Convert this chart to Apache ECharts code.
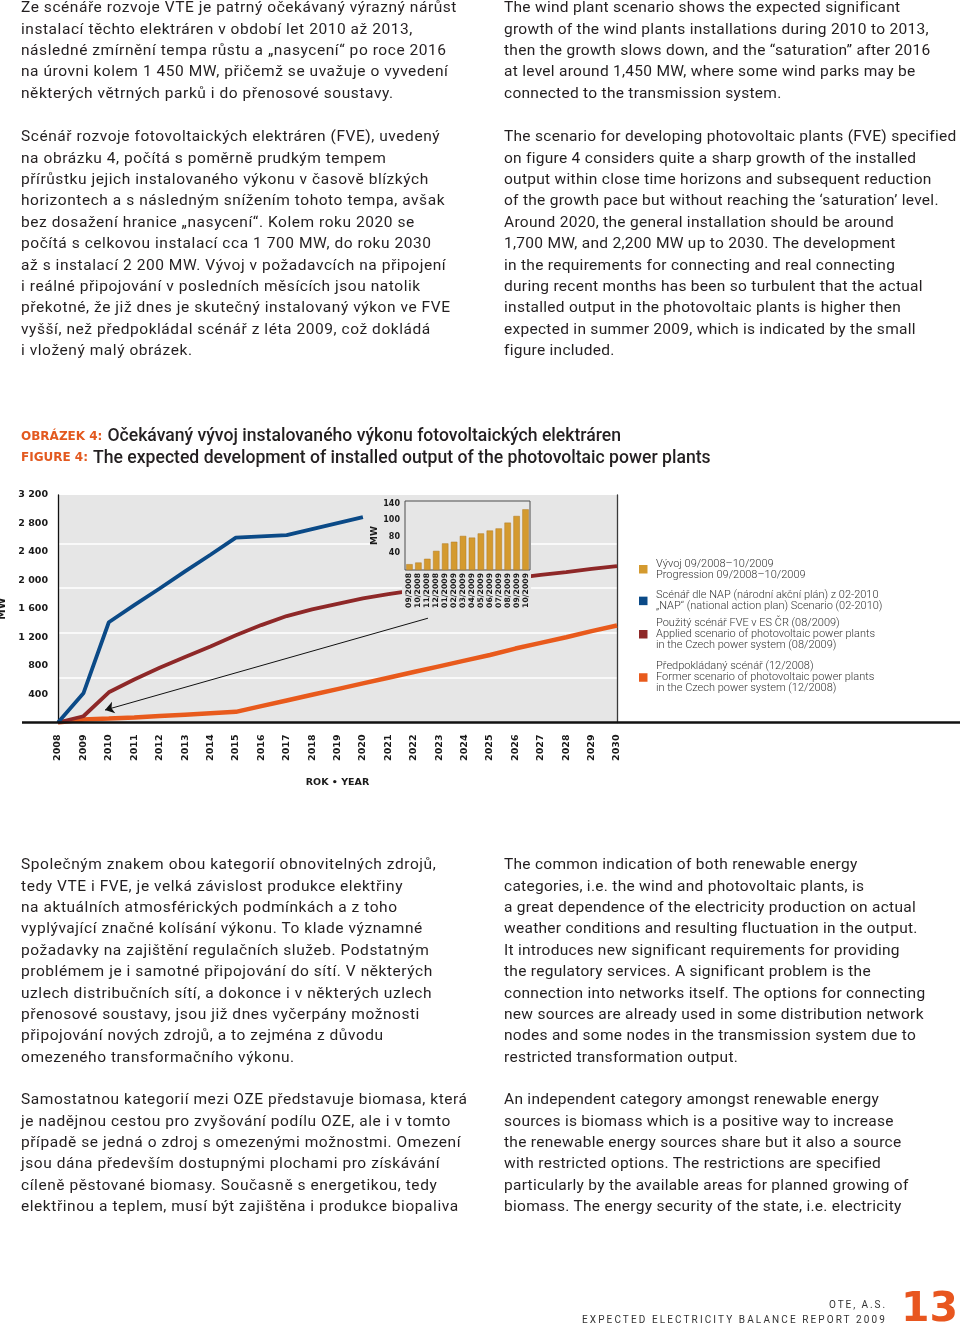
<!DOCTYPE html>
<html><head><meta charset="utf-8">
<script src="https://cdn.jsdelivr.net/npm/echarts@6/dist/echarts.min.js"></script>
<style>
html,body{margin:0;padding:0;background:#fff;}
body{width:960px;height:1327px;overflow:hidden;position:relative;}
#chart{position:absolute;left:0;top:0;width:960px;height:1327px;}
.col{position:absolute;font-family:Roboto,'DejaVu Sans',sans-serif;font-size:15.5px;line-height:21.4px;color:#231f20;z-index:2;}
.col div{height:21.4px;white-space:pre;}
.foot{position:absolute;font-family:Roboto,sans-serif;font-size:10px;line-height:12px;color:#333;white-space:pre;z-index:2;}
.foot span{display:inline-block;white-space:pre;}
#pg{position:absolute;left:901px;top:1287px;font-family:'DejaVu Sans',sans-serif;font-weight:bold;font-size:41px;line-height:40px;color:#e8561f;z-index:2;}
</style></head><body>
<div id="chart"></div>
<div id="texts"></div>
<div class="foot" id="ote"><span>OTE, A.S.</span></div>
<div class="foot" id="rep"><span>EXPECTED ELECTRICITY BALANCE REPORT 2009</span></div>
<div id="pg">13</div>
<script>
// ---------- DATA ----------
const years = [2008,2009,2010,2011,2012,2013,2014,2015,2016,2017,2018,2019,2020,2021,2022,2023,2024,2025,2026,2027,2028,2029,2030];
const napValues = [0,410,1410,1650,1885,2125,2360,2600,2618,2635,2720,2805,2890];
const appliedValues = [0,88,425,605,770,920,1070,1226,1370,1497,1590,1670,1745,1805,1860,1905,1950,1990,2030,2075,2115,2160,2200];
const formerValues = [0,42,55,70,90,110,130,150,230,310,390,470,550,630,710,790,870,950,1040,1120,1200,1285,1365];
const insetMonths = ['09/2008','10/2008','11/2008','12/2008','01/2009','02/2009','03/2009','04/2009','05/2009','06/2009','07/2009','08/2009','09/2009','10/2009'];
const insetValues = [14,18,27,46,64,68,82,78,88,95,100,114,130,146];
const insetTickValues = [40,80,120,160];
const insetTickLabels = ['40','80','100','140'];
const arrowFrom = [2022.56,1467];
const arrowTo = [2009.85,175];
const legendDev = ['Vývoj 09/2008–10/2009','Progression 09/2008–10/2009'];
const legendNap = ['Scénář dle NAP (národní akční plán) z 02-2010','„NAP“ (national action plan) Scenario (02-2010)'];
const legendApplied = ['Použitý scénář FVE v ES ČR (08/2009)','Applied scenario of photovoltaic power plants','in the Czech power system (08/2009)'];
const legendFormer = ['Předpokládaný scénář (12/2008)','Former scenario of photovoltaic power plants','in the Czech power system (12/2008)'];

// ---------- TEXT ----------
const leftP1 = ['Ze scénáře rozvoje VTE je patrný očekávaný výrazný nárůst','instalací těchto elektráren v období let 2010 až 2013,','následné zmírnění tempa růstu a „nasycení“ po roce 2016','na úrovni kolem 1 450 MW, přičemž se uvažuje o vyvedení','některých větrných parků i do přenosové soustavy.'];
const leftP2 = ['Scénář rozvoje fotovoltaických elektráren (FVE), uvedený','na obrázku 4, počítá s poměrně prudkým tempem','přírůstku jejich instalovaného výkonu v časově blízkých','horizontech a s následným snížením tohoto tempa, avšak','bez dosažení hranice „nasycení“. Kolem roku 2020 se','počítá s celkovou instalací cca 1 700 MW, do roku 2030','až s instalací 2 200 MW. Vývoj v požadavcích na připojení','i reálné připojování v posledních měsících jsou natolik','překotné, že již dnes je skutečný instalovaný výkon ve FVE','vyšší, než předpokládal scénář z léta 2009, což dokládá','i vložený malý obrázek.'];
const rightP1 = ['The wind plant scenario shows the expected significant','growth of the wind plants installations during 2010 to 2013,','then the growth slows down, and the “saturation” after 2016','at level around 1,450 MW, where some wind parks may be','connected to the transmission system.'];
const rightP2 = ['The scenario for developing photovoltaic plants (FVE) specified','on figure 4 considers quite a sharp growth of the installed','output within close time horizons and subsequent reduction','of the growth pace but without reaching the ‘saturation’ level.','Around 2020, the general installation should be around','1,700 MW, and 2,200 MW up to 2030. The development','in the requirements for connecting and real connecting','during recent months has been so turbulent that the actual','installed output in the photovoltaic plants is higher then','expected in summer 2009, which is indicated by the small','figure included.'];
const leftP3 = ['Společným znakem obou kategorií obnovitelných zdrojů,','tedy VTE i FVE, je velká závislost produkce elektřiny','na aktuálních atmosférických podmínkách a z toho','vyplývající značné kolísání výkonu. To klade významné','požadavky na zajištění regulačních služeb. Podstatným','problémem je i samotné připojování do sítí. V některých','uzlech distribučních sítí, a dokonce i v některých uzlech','přenosové soustavy, jsou již dnes vyčerpány možnosti','připojování nových zdrojů, a to zejména z důvodu','omezeného transformačního výkonu.'];
const rightP3 = ['The common indication of both renewable energy','categories, i.e. the wind and photovoltaic plants, is','a great dependence of the electricity production on actual','weather conditions and resulting fluctuation in the output.','It introduces new significant requirements for providing','the regulatory services. A significant problem is the','connection into networks itself. The options for connecting','new sources are already used in some distribution network','nodes and some nodes in the transmission system due to','restricted transformation output.'];
const leftP4 = ['Samostatnou kategorií mezi OZE představuje biomasa, která','je nadějnou cestou pro zvyšování podílu OZE, ale i v tomto','případě se jedná o zdroj s omezenými možnostmi. Omezení','jsou dána především dostupnými plochami pro získávání','cíleně pěstované biomasy. Současně s energetikou, tedy','elektřinou a teplem, musí být zajištěna i produkce biopaliva'];
const rightP4 = ['An independent category amongst renewable energy','sources is biomass which is a positive way to increase','the renewable energy sources share but it also a source','with restricted options. The restrictions are specified','particularly by the available areas for planned growing of','biomass. The energy security of the state, i.e. electricity'];

// ---------- LAYOUT OF TEXT ----------
const blocks = [
  {lines:leftP1, x:21, y:-2.7, side:'L'},
  {lines:leftP2, x:21, y:126.3, side:'L'},
  {lines:rightP1, x:504, y:-2.7, side:'R'},
  {lines:rightP2, x:504, y:126.3, side:'R'},
  {lines:leftP3, x:21, y:854.3, side:'L'},
  {lines:rightP3, x:504, y:854.3, side:'R'},
  {lines:leftP4, x:21, y:1089.3, side:'L'},
  {lines:rightP4, x:504, y:1089.3, side:'R'}
];
const host = document.getElementById('texts');
const cv = document.createElement('canvas').getContext('2d');
cv.font = '400 15.5px Roboto';
const lsL = (436 - cv.measureText(leftP1[0]).width) / leftP1[0].length;
const lsR = (452 - cv.measureText(rightP2[0]).width) / rightP2[0].length;
blocks.forEach(b => {
  const d = document.createElement('div');
  d.className = 'col';
  d.style.left = b.x + 'px';
  d.style.top = b.y + 'px';
  d.style.letterSpacing = (b.side === 'L' ? lsL : lsR).toFixed(3) + 'px';
  b.lines.forEach(t => { const l = document.createElement('div'); l.textContent = t; d.appendChild(l); });
  host.appendChild(d);
});
function fitFoot(id, right, top, width) {
  const el = document.getElementById(id);
  el.style.top = top + 'px';
  el.style.left = '0px';
  const sp = el.firstChild;
  const w = sp.getBoundingClientRect().width;
  const n = sp.textContent.length;
  el.style.letterSpacing = ((width - w) / n).toFixed(3) + 'px';
  const w2 = sp.getBoundingClientRect().width;
  el.style.left = (right - w2) + 'px';
}
fitFoot('ote', 887, 1299, 58);
fitFoot('rep', 887, 1314, 305);

// ---------- CHART ----------
const colors = {dev:'#d49a2f', nap:'#0b4a87', applied:'#8e2828', former:'#e85a1c'};
const pairs = (xs, vs) => vs.map((v, i) => [xs[i], v]);
const axisFont = {fontFamily:'DejaVu Sans', fontWeight:'bold', color:'#1a1a1a'};
const fmtThousands = v => v >= 1000 ? Math.floor(v/1000) + ' ' + String(v % 1000).padStart(3,'0') : String(v);
const legendMap = {};
[legendDev, legendNap, legendApplied, legendFormer].forEach(a => legendMap[a[0]] = a.join('\n'));
function makeLegend(lines, top) {
  const n = lines.length;
  return {
    show:true, orient:'vertical', left:639, top:top, padding:0,
    itemWidth:8.5, itemHeight:8.5, icon:'rect', selectedMode:false,
    itemStyle:{borderWidth:0},
    textStyle:{fontFamily:'Roboto', fontSize:11, lineHeight:11, color:'#333333', fontWeight:300},
    formatter: name => legendMap[name],
    data:[{name:lines[0], textStyle:{padding:[(n-1)*11,0,0,3.5]}}]
  };
}
const chart = echarts.init(document.getElementById('chart'), null, {renderer:'canvas'});
chart.setOption({
  animation:false,
  backgroundColor:'#ffffff',
  title:{
    left:21, top:426, padding:0,
    text:'{o|OBRÁZEK 4:} {t|Očekávaný vývoj instalovaného výkonu fotovoltaických elektráren}\n{o|FIGURE 4:} {t|The expected development of installed output of the photovoltaic power plants}',
    textStyle:{rich:{
      o:{fontFamily:'DejaVu Sans', fontWeight:'bold', fontSize:12, color:'#e3591f', lineHeight:21.5, verticalAlign:'middle'},
      t:{fontFamily:'Roboto', fontWeight:500, fontSize:17.6, color:'#231f20', lineHeight:21.5, verticalAlign:'middle'}
    }}
  },
  legend:[
    makeLegend(legendDev, 552.75),
    makeLegend(legendNap, 584.4),
    makeLegend(legendApplied, 606.75),
    makeLegend(legendFormer, 650)
  ],
  grid:[
    {left:58, top:495, width:559, height:227.5, show:true, backgroundColor:'#e6e6e6', borderWidth:0, outerBoundsMode:'none'},
    {left:405, top:501, width:125, height:69, show:true, backgroundColor:'transparent', borderColor:'#4d4d4d', borderWidth:1, z:5, outerBoundsMode:'none'}
  ],
  xAxis:[
    {type:'value', gridIndex:0, min:2008, max:2030, interval:1,
     axisLine:{show:false}, axisTick:{show:false}, splitLine:{show:false},
     axisLabel:Object.assign({rotate:90, margin:12, fontSize:9.5, formatter: v => String(v)}, axisFont),
     name:'ROK • YEAR', nameLocation:'middle', nameGap:55,
     nameTextStyle:Object.assign({fontSize:9.5}, axisFont)},
    {type:'category', gridIndex:1, data:insetMonths, z:6,
     axisLine:{show:false}, axisTick:{show:false}, splitLine:{show:false},
     axisLabel:Object.assign({rotate:90, margin:3, fontSize:7.7, interval:0}, axisFont)}
  ],
  yAxis:[
    {type:'value', gridIndex:0, min:0, max:3200, interval:400,
     axisLine:{show:true, lineStyle:{color:'#111', width:1.3}}, axisTick:{show:false}, splitLine:{show:false},
     axisLabel:Object.assign({margin:10, fontSize:9.5, showMinLabel:false, formatter:fmtThousands}, axisFont),
     name:'MW', nameLocation:'middle', nameGap:40, nameRotate:90,
     nameTextStyle:Object.assign({fontSize:10.5}, axisFont)},
    {type:'value', gridIndex:0, position:'right', min:0, max:3200, interval:630,
     axisLine:{show:true, lineStyle:{color:'#3a3a3a', width:1.3}}, axisTick:{show:false}, axisLabel:{show:false},
     splitLine:{show:true, showMinLine:false, showMaxLine:false,
       lineStyle:{color:['#ffffff','#ffffff','#ffffff','#ffffff','rgba(0,0,0,0)'], width:1.5}}},
    {type:'value', gridIndex:1, min:0, max:166, interval:40, z:6,
     axisLine:{show:false}, axisTick:{show:false}, splitLine:{show:false},
     axisLabel:Object.assign({margin:5, fontSize:8, formatter: v => {
       const i = insetTickValues.indexOf(v); return i >= 0 ? insetTickLabels[i] : ''; }}, axisFont),
     name:'MW', nameLocation:'middle', nameGap:19, nameRotate:90,
     nameTextStyle:Object.assign({fontSize:9}, axisFont)}
  ],
  graphic:[
    {type:'rect', shape:{x:402, y:499, width:129, height:111}, style:{fill:'#e6e6e6'}, z:3, silent:true},
    {type:'rect', shape:{x:376, y:499, width:27, height:76}, style:{fill:'#e6e6e6'}, z:3, silent:true},
    {type:'rect', shape:{x:22, y:721.2, width:938, height:2.6}, style:{fill:'#111111'}, z:10, silent:true}
  ],
  series:[
    {name:legendFormer[0], type:'line', xAxisIndex:0, yAxisIndex:0, data:pairs(years, formerValues),
     symbol:'none', silent:true, color:colors.former, lineStyle:{color:colors.former, width:4.5}, z:2},
    {name:legendApplied[0], type:'line', xAxisIndex:0, yAxisIndex:0, data:pairs(years, appliedValues),
     symbol:'none', silent:true, color:colors.applied, lineStyle:{color:colors.applied, width:3.8}, z:2,
     markLine:{silent:true, symbol:['none','arrow'], symbolSize:9, label:{show:false},
       lineStyle:{color:'#111', width:1, type:'solid'},
       data:[[{coord:arrowFrom}, {coord:arrowTo}]]}},
    {name:legendNap[0], type:'line', xAxisIndex:0, yAxisIndex:0, data:pairs(years, napValues),
     symbol:'none', silent:true, color:colors.nap, lineStyle:{color:colors.nap, width:3.8}, z:2},
    {name:legendDev[0], type:'bar', xAxisIndex:1, yAxisIndex:2, data:insetValues, z:5,
     barCategoryGap:'28%', silent:true, color:colors.dev,
     itemStyle:{color:colors.dev, borderColor:'#b07a22', borderWidth:0.5}}
  ]
});
</script>
</body></html>
